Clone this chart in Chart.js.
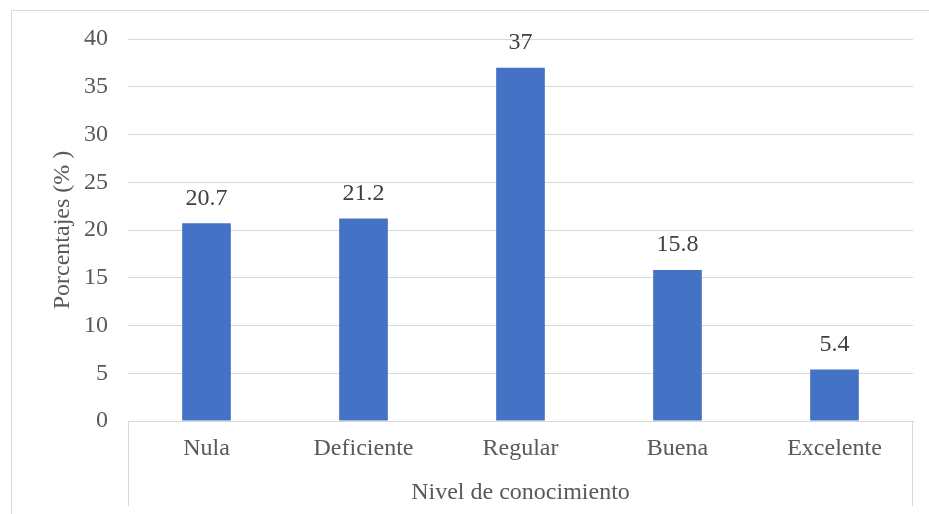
<!DOCTYPE html>
<html>
<head>
<meta charset="utf-8">
<script src="https://cdn.jsdelivr.net/npm/chart.js@4/dist/chart.umd.min.js"></script>
<style>
  html, body { margin: 0; padding: 0; background: #ffffff; }
  #wrap { width: 929px; height: 514px; position: relative; }
</style>
</head>
<body>
<div id="wrap"><canvas id="chart" width="929" height="514"></canvas></div>
<script>
// Knowledge level categories and their share of respondents (%)
const categories = ['Nula', 'Deficiente', 'Regular', 'Buena', 'Excelente'];
const percentages = [20.7, 21.2, 37, 15.8, 5.4];
const yTicks = [0, 5, 10, 15, 20, 25, 30, 35, 40];

const SERIF = '"Liberation Serif", "Times New Roman", serif';
const GRID = '#d9d9d9';

// Frame lines: outer chart border and the boxed category axis
const framePlugin = {
  id: 'frame',
  afterDraw(chart) {
    const ctx = chart.ctx;
    const a = chart.chartArea;
    ctx.save();
    ctx.strokeStyle = GRID;
    ctx.lineWidth = 1;
    ctx.beginPath();
    // outer border (top and left edges)
    ctx.moveTo(11.5, 514);
    ctx.lineTo(11.5, 10.5);
    ctx.lineTo(929, 10.5);
    // category axis box sides
    ctx.moveTo(Math.round(a.left) + 0.5, a.bottom);
    ctx.lineTo(Math.round(a.left) + 0.5, 506);
    ctx.moveTo(Math.round(a.right) - 0.5, a.bottom);
    ctx.lineTo(Math.round(a.right) - 0.5, 506);
    ctx.stroke();
    ctx.restore();
  }
};

// Value labels above each bar
const valueLabels = {
  id: 'valueLabels',
  afterDatasetsDraw(chart) {
    const ctx = chart.ctx;
    const meta = chart.getDatasetMeta(0);
    ctx.save();
    ctx.font = '24px ' + SERIF;
    ctx.fillStyle = '#404040';
    ctx.textAlign = 'center';
    ctx.textBaseline = 'middle';
    meta.data.forEach((bar, i) => {
      ctx.fillText(String(percentages[i]), bar.x, bar.y - 25);
    });
    ctx.restore();
  }
};

new Chart(document.getElementById('chart'), {
  type: 'bar',
  data: {
    labels: categories,
    datasets: [{
      data: percentages,
      backgroundColor: '#4472c4',
      borderWidth: 0,
      barPercentage: 0.31,
      categoryPercentage: 1.0
    }]
  },
  options: {
    responsive: false,
    animation: false,
    layout: { padding: { left: 12, right: 16, top: 39, bottom: 0 } },
    plugins: { legend: { display: false }, tooltip: { enabled: false } },
    scales: {
      x: {
        afterFit(scale) { scale.height = 93; },
        grid: { display: false, drawTicks: false },
        border: { display: true, color: GRID, width: 1 },
        ticks: { color: '#595959', font: { family: SERIF, size: 24 }, padding: 13 },
        title: {
          display: true,
          text: 'Nivel de conocimiento',
          color: '#595959',
          font: { family: SERIF, size: 24 },
          padding: { top: 0, bottom: 7 }
        }
      },
      y: {
        min: 0,
        max: 40,
        afterFit(scale) { scale.width = 116; },
        afterBuildTicks(scale) { scale.ticks = yTicks.map(v => ({ value: v })); },
        grid: { color: GRID, lineWidth: 1, drawTicks: false },
        border: { display: false },
        ticks: { color: '#595959', font: { family: SERIF, size: 24 }, padding: 20 },
        title: {
          display: true,
          text: 'Porcentajes (% )',
          color: '#595959',
          font: { family: SERIF, size: 24 },
          padding: { top: 36, bottom: 0 }
        }
      }
    }
  },
  plugins: [framePlugin, valueLabels]
});
</script>
</body>
</html>
